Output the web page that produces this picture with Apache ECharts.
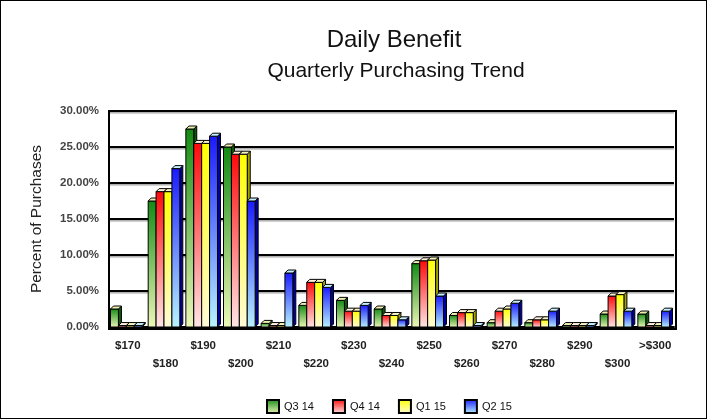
<!DOCTYPE html>
<html><head><meta charset="utf-8">
<script src="https://cdn.jsdelivr.net/npm/echarts@6/dist/echarts.min.js"></script>
<style>html,body{margin:0;padding:0;background:#fff}#c{width:707px;height:419px;box-sizing:border-box;border:1px solid #000}</style>
</head><body><div id="c"></div>
<script>
var categories = ['$170','$180','$190','$200','$210','$220','$230','$240','$250','$260','$270','$280','$290','$300','>$300'];
var q3_14 = [2.5, 17.5, 27.5, 25.0, 0.5, 3.0, 3.7, 2.5, 8.8, 1.6, 0.6, 0.6, 0.2, 1.8, 1.8];
var q4_14 = [0.2, 18.8, 25.5, 24.0, 0.2, 6.2, 2.2, 1.6, 9.2, 2.0, 2.2, 1.0, 0.2, 4.3, 0.2];
var q1_15 = [0.2, 18.8, 25.5, 24.0, 0.2, 6.2, 2.2, 1.6, 9.3, 2.0, 2.5, 1.0, 0.2, 4.5, 0.2];
var q2_15 = [0.2, 22.0, 26.5, 17.5, 7.5, 5.5, 3.0, 1.0, 4.3, 0.2, 3.3, 2.2, 0.2, 2.2, 2.2];
var seriesNames = ['Q3 14','Q4 14','Q1 15','Q2 15'];
var yTicks = [0,5,10,15,20,25,30];

var styles = [
  {top:'#128a12', bottom:'#eef8b8', cap:'#eeeeb0', side:'#0a5a0a'},
  {top:'#ff0a0a', bottom:'#ffe6e6', cap:'#fff0dc', side:'#a00000'},
  {top:'#ffff00', bottom:'#fffbd8', cap:'#f6f4c0', side:'#a0a000'},
  {top:'#1a1aff', bottom:'#b8f4ff', cap:'#c4f0ff', side:'#0000a0'}
];
function grad(s){return new echarts.graphic.LinearGradient(0,0,0,1,[{offset:0,color:s.top},{offset:1,color:s.bottom}]);}
function makeRender(si){
  return function(params, api){
    var idx = api.value(0), v = api.value(1);
    var base = api.coord([idx, 0]), top = api.coord([idx, v]);
    var band = api.size([1,0])[0];
    var bw = band*0.21, d = 3;
    var x0 = base[0] - bw*2 + si*bw - 1.5, x1 = x0 + bw;
    var yt = top[1], yb = base[1];
    var s = styles[si];
    return {type:'group', children:[
      {type:'polygon', shape:{points:[[x1,yt],[x1+d,yt-d],[x1+d,yb-d],[x1,yb]]}, style:{fill:s.side, stroke:'#000', lineWidth:1}},
      {type:'rect', shape:{x:x0, y:yt, width:bw, height:yb-yt}, style:{fill:grad(s), stroke:'#000', lineWidth:1}},
      {type:'polygon', shape:{points:[[x0,yt],[x0+d,yt-d],[x1+d,yt-d],[x1,yt]]}, style:{fill:s.cap, stroke:'#000', lineWidth:1}}
    ]};
  };
}
var datas = [q3_14,q4_14,q1_15,q2_15];
var series = datas.map(function(arr, si){
  return {
    name: seriesNames[si], type:'custom', renderItem: makeRender(si),
    encode:{x:0,y:1},
    itemStyle:{color:grad(styles[si]), borderColor:'#000', borderWidth:1.5},
    data: arr.map(function(v,i){return [i,v];})
  };
});
var font = 'Liberation Sans, Arial';
var chart = echarts.init(document.getElementById('c'));
chart.setOption({
  animation:false,
  title:[
    {text:'Daily Benefit', left:393, textAlign:'center', top:27, padding:0, textStyle:{fontFamily:font, fontSize:24, fontWeight:'normal', color:'#111'}},
    {text:'Quarterly Purchasing Trend', left:395, textAlign:'center', top:60, padding:0, textStyle:{fontFamily:font, fontSize:21, fontWeight:'normal', color:'#111'}}
  ],
  grid:{left:108, right:32, top:110, bottom:91},
  legend:{top:393, left:260, icon:'rect', itemWidth:12, itemHeight:13, itemGap:18,
    textStyle:{fontFamily:font, fontSize:11, color:'#111'}, data:seriesNames},
  xAxis:{type:'category', data:categories, boundaryGap:true,
    axisLine:{lineStyle:{color:'#000', width:2}}, axisTick:{show:false},
    axisLabel:{interval:0, margin:10, fontFamily:font, fontSize:11.5, fontWeight:'bold', color:'#222', lineHeight:18,
      formatter:function(v, i){return i%2 ? '\n'+v : v;}}},
  yAxis:{type:'value', min:0, max:30, interval:5,
    name:'Percent of Purchases', nameLocation:'middle', nameGap:64, nameRotate:90,
    nameTextStyle:{fontFamily:font, fontSize:15.5, color:'#222'},
    axisLine:{show:true, lineStyle:{color:'#000', width:2}}, axisTick:{show:false},
    axisLabel:{margin:10, fontFamily:font, fontSize:11.5, fontWeight:'bold', color:'#444',
      formatter:function(v){return yTicks.indexOf(v)>=0 ? v.toFixed(2)+'%' : '';}},
    splitLine:{lineStyle:{color:'#000', width:2, shadowColor:'rgba(0,0,0,0.35)', shadowOffsetY:1.5, shadowBlur:1}}},
  graphic:[{type:'rect', shape:{x:108, y:110, width:567, height:218}, style:{fill:null, stroke:'#000', lineWidth:2}, z:100, silent:true}],
  series: series
});
</script></body></html>
